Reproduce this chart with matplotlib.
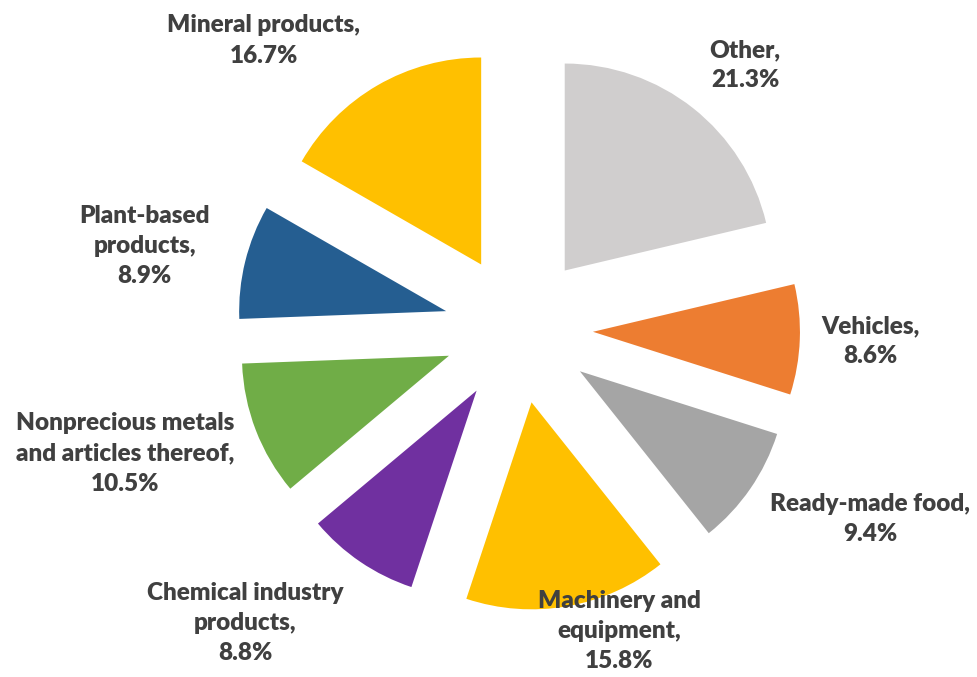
import numpy as np
import matplotlib
matplotlib.use("Agg")
import matplotlib.pyplot as plt

# Export structure by commodity group, share of total (%)
categories = ["Other", "Vehicles", "Ready-made food", "Machinery and\nequipment",
              "Chemical industry\nproducts", "Nonprecious metals\nand articles thereof",
              "Plant-based\nproducts", "Mineral products"]
shares = [21.3, 8.6, 9.4, 15.8, 8.8, 10.5, 8.9, 16.7]
colors = ["#D0CECE", "#ED7D31", "#A5A5A5", "#FFC000",
          "#7030A0", "#70AD47", "#255E91", "#FFC000"]

# label placement: distance from centre and angular nudge (degrees, counter-clockwise)
label_r = [1.68, 1.70, 1.93, 1.54, 1.94, 1.995, 1.85, 1.86]
label_nudge = [-2.3, 0.2, 6.2, 8.4, -8.7, -3.5, 1.4, 11.4]

plt.rcParams['font.family'] = ['Lato', 'DejaVu Sans']

fig = plt.figure(figsize=(9.78, 6.77), dpi=100)
ax = fig.add_axes([0, 0, 1, 1])

wedges, _ = ax.pie(shares, colors=colors, startangle=90, counterclock=False,
                   explode=[0.36] * len(shares), radius=1.0,
                   wedgeprops=dict(linewidth=0))

for w, name, val, r, dt in zip(wedges, categories, shares, label_r, label_nudge):
    theta = np.deg2rad((w.theta1 + w.theta2) / 2 + dt)
    ax.text(r * np.cos(theta), r * np.sin(theta), f"{name},\n{val}%",
            ha="center", va="center", fontsize=17.5, fontweight="heavy",
            color="#404040", linespacing=1.45)

ax.set_xlim(-2.505, 2.22)
ax.set_ylim(-1.681, 1.589)
ax.set_aspect("equal")
ax.axis("off")

fig.savefig("out.png", dpi=100)
